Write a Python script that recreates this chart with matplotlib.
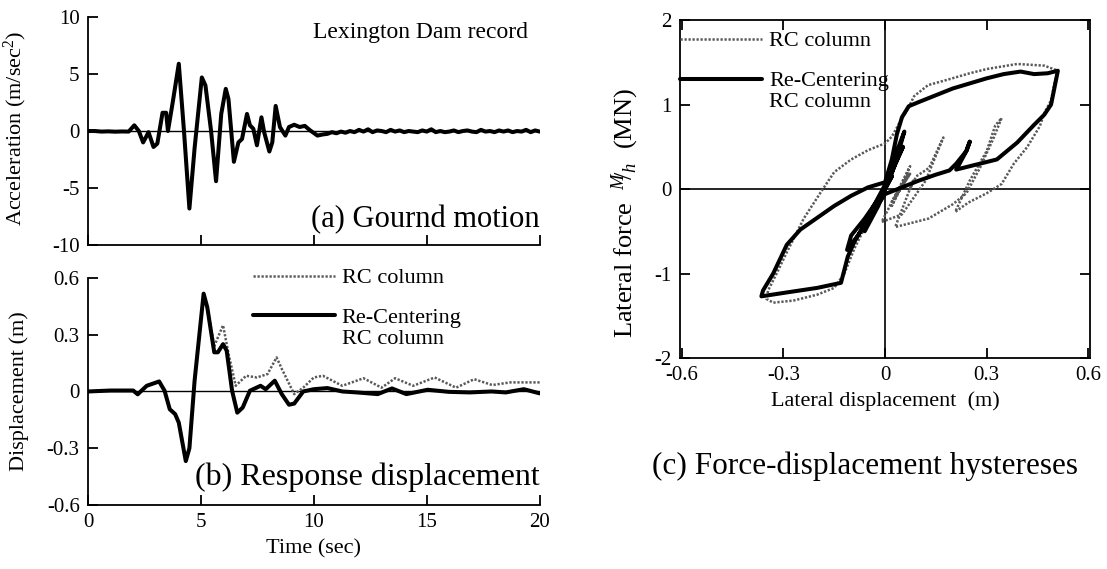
import matplotlib
matplotlib.use("Agg")
import matplotlib.pyplot as plt
from matplotlib.lines import Line2D

plt.rcParams['font.family'] = ['Liberation Serif', 'DejaVu Serif']
plt.rcParams['mathtext.fontset'] = 'custom'
plt.rcParams['mathtext.rm'] = 'Liberation Serif'
plt.rcParams['mathtext.it'] = 'Liberation Serif:italic'
plt.rcParams['axes.unicode_minus'] = False

# ground acceleration, Lexington Dam record (m/sec^2)
acc_t = [0, 0.3, 0.6, 0.9, 1.2, 1.5, 1.8, 2.05, 2.25, 2.44, 2.55, 2.68, 2.9, 3.07, 3.3, 3.46,
         3.54, 3.75, 4.02, 4.25, 4.49, 4.72, 5.04, 5.2, 5.45, 5.67, 5.9, 6.1, 6.22, 6.46,
         6.66, 6.82, 7.04, 7.17, 7.32, 7.48, 7.68, 7.8, 8.03, 8.16, 8.31, 8.5, 8.74, 8.9,
         9.13, 9.37, 9.6, 9.84, 10.16, 10.4, 10.6, 10.8, 11.0, 11.2, 11.4, 11.6, 11.8,
         12.0, 12.2, 12.4, 12.6, 12.8, 13.0, 13.2, 13.4, 13.6, 13.8, 14.0, 14.2, 14.4,
         14.6, 14.8, 15.0, 15.2, 15.4, 15.6, 15.8, 16.0, 16.2, 16.4, 16.6, 16.8, 17.0,
         17.2, 17.4, 17.6, 17.8, 18.0, 18.2, 18.4, 18.6, 18.8, 19.0, 19.2, 19.4, 19.6,
         19.8, 20.0]
acc = [0, 0, -0.05, -0.03, -0.06, -0.04, -0.05, 0.5, 0.0, -1.0, -0.6, -0.1, -1.4, -1.1, 1.6, 1.6,
       0.0, 2.5, 5.9, 0.0, -6.8, -1.5, 4.7, 4.0, 0.0, -4.4, 1.5, 3.7, 2.8, -2.7,
       -1.0, -0.7, 1.5, 0.5, 0.2, -1.25, 1.2, -0.1, -1.8, -1.0, 2.2, 0.35, -0.4, 0.35,
       0.55, 0.35, 0.45, 0.05, -0.4, -0.3, -0.25, -0.1, -0.2, -0.05, -0.15, 0.0, -0.1,
       0.1, -0.05, 0.15, -0.1, 0.05, 0.0, -0.1, 0.1, -0.05, 0.05, -0.1, 0.0, -0.05,
       -0.1, 0.05, -0.05, 0.15, -0.1, 0.0, -0.1, -0.05, 0.05, -0.1, 0.0, 0.05, -0.05,
       -0.1, 0.1, -0.05, 0.0, -0.1, 0.05, -0.05, 0.05, -0.1, 0.0, -0.05, 0.1, -0.1,
       0.05, -0.05]

# response displacement (m)
re_t = [0, 1.0, 2.0, 2.2, 2.6, 3.15, 3.39, 3.62, 3.86, 4.02, 4.33, 4.49, 4.72, 5.12, 5.28,
        5.59, 5.75, 5.98, 6.14, 6.38, 6.61, 6.85, 7.17, 7.64, 7.87, 8.27, 8.58, 8.9, 9.13,
        9.53, 10.0, 10.6, 11.26, 11.9, 12.83, 13.46, 14.1, 15.04, 15.98, 16.9, 17.87,
        18.5, 19.3, 20.0]
re_d = [0, 0.005, 0.005, -0.015, 0.03, 0.053, 0.004, -0.094, -0.12, -0.165, -0.368, -0.3, 0.057,
        0.517, 0.446, 0.207, 0.207, 0.25, 0.216, 0.004, -0.112, -0.085, 0.004, 0.03, 0.012,
        0.057, -0.014, -0.07, -0.064, 0.0, 0.012, 0.018, 0.0, -0.005, -0.014, 0.016, -0.014,
        0.009, -0.002, -0.005, 0.0, -0.005, 0.012, -0.01]
rc_t = [0, 1.0, 2.0, 2.2, 2.6, 3.15, 3.39, 3.62, 3.86, 4.02, 4.33, 4.49, 4.72, 5.12, 5.28,
        5.59, 5.98, 6.22, 6.54, 7.0, 7.48, 7.95, 8.35, 8.58, 9.13, 9.53, 10.0, 10.4, 11.26,
        12.2, 13.0, 13.6, 14.4, 15.35, 16.3, 17.1, 17.9, 18.7, 20.0]
rc_d = [0, 0.005, 0.005, -0.015, 0.03, 0.053, 0.004, -0.094, -0.12, -0.165, -0.368, -0.3, 0.057,
        0.517, 0.446, 0.24, 0.35, 0.2, 0.03, 0.083, 0.074, 0.092, 0.18, 0.12, -0.014, 0.02,
        0.074, 0.083, 0.03, 0.07, 0.02, 0.07, 0.03, 0.074, 0.02, 0.065, 0.034, 0.048, 0.048]

# lateral force M/h (MN) against lateral displacement (m)
re_x = [0, 0.02, 0.053, 0.03, 0.0, -0.05, -0.09, -0.11, -0.13, -0.2, -0.3, -0.365,
        -0.36, -0.33, -0.29, -0.25, -0.2, -0.15, -0.1, -0.05, 0.0, 0.02, 0.035, 0.05, 0.07,
        0.1, 0.15, 0.2, 0.25, 0.3, 0.35, 0.4, 0.44, 0.48, 0.51,
        0.5, 0.49, 0.47, 0.44, 0.39, 0.33, 0.29, 0.25, 0.21,
        0.22, 0.24, 0.25,
        0.24, 0.21, 0.19, 0.15, 0.1, 0.05, 0.0, -0.04, -0.08, -0.112,
        -0.1, -0.06, -0.02, 0.0, 0.03, 0.012, 0.03, 0.057, 0.04, 0.0, -0.04, -0.07, -0.06,
        -0.02, 0.0, 0.02, 0.0, -0.01]
re_y = [0, 0.2, 0.5, 0.3, 0.0, -0.35, -0.62, -0.8, -1.11, -1.17, -1.23, -1.27,
        -1.2, -1.0, -0.66, -0.48, -0.34, -0.2, -0.08, 0.02, 0.08, 0.35, 0.65, 0.85, 0.98,
        1.03, 1.11, 1.19, 1.25, 1.31, 1.36, 1.39, 1.36, 1.37, 1.4,
        1.2, 1.0, 0.88, 0.76, 0.55, 0.35, 0.31, 0.27, 0.23,
        0.3, 0.45, 0.56,
        0.45, 0.3, 0.22, 0.17, 0.1, 0.02, -0.06, -0.3, -0.55, -0.72,
        -0.55, -0.35, -0.12, 0.02, 0.4, 0.1, 0.3, 0.68, 0.5, 0.05, -0.25, -0.45, -0.5,
        -0.2, 0.0, 0.15, 0.0, -0.05]
rc_x = [0, 0.02, 0.053, 0.03, 0.0, -0.05, -0.09, -0.12, -0.15, -0.2, -0.27, -0.33, -0.35,
        -0.345, -0.32, -0.29, -0.265, -0.24, -0.19, -0.15, -0.1, -0.05, 0.0, 0.02, 0.045,
        0.066, 0.086, 0.127, 0.19, 0.25, 0.3, 0.39, 0.47, 0.51,
        0.5, 0.49, 0.47, 0.457, 0.42, 0.38, 0.344, 0.3, 0.246, 0.207,
        0.25, 0.3, 0.325, 0.344,
        0.32, 0.28, 0.24, 0.2, 0.128, 0.03,
        0.083, 0.074, 0.092, 0.13, 0.172,
        0.12, 0.05, -0.01,
        0.074, 0.02, 0.07, 0.02, 0.074, 0.03, 0.065, 0.034, 0.048]
rc_y = [0, 0.2, 0.5, 0.3, 0.0, -0.38, -0.7, -1.0, -1.17, -1.25, -1.32, -1.345, -1.3,
        -1.2, -1.0, -0.75, -0.55, -0.35, -0.04, 0.2, 0.35, 0.46, 0.54, 0.62, 0.8,
        0.94, 1.1, 1.23, 1.3, 1.37, 1.42, 1.48, 1.46, 1.4,
        1.25, 1.05, 0.9, 0.745, 0.5, 0.3, 0.06, -0.05, -0.16, -0.27,
        0.1, 0.45, 0.75, 0.84,
        0.6, 0.25, -0.05, -0.18, -0.35, -0.45,
        0.1, 0.0, 0.15, 0.25, 0.61,
        0.1, -0.3, -0.39,
        0.27, -0.2, 0.2, -0.15, 0.18, -0.1, 0.15, -0.05, 0.05]

TICK = 15
LAB = 16
thick = dict(color='black', lw=2.9, solid_joinstyle='round', solid_capstyle='round')
dotted = dict(color='0.35', lw=1.8, linestyle=(0, (0.9, 0.7)))


def style_axes(ax, box=False):
    for side in ['top', 'right']:
        ax.spines[side].set_visible(box)
    for sp in ax.spines.values():
        sp.set_linewidth(1.3)
    ax.tick_params(direction='in', length=7, width=1.3, labelsize=TICK,
                   top=box, right=box, pad=6)


fig = plt.figure(figsize=(11.07, 5.69), dpi=100)

# (a) ground motion
ax1 = fig.add_axes([0.0795, 0.5694, 0.408, 0.4007])
ax1.axhline(0, color='black', lw=1.0)
ax1.plot(acc_t, acc, **thick)
ax1.set_xlim(0, 20)
ax1.set_ylim(-10, 10)
ax1.set_xticks([0, 5, 10, 15, 20])
ax1.set_yticks([-10, -5, 0, 5, 10])
ax1.set_xticklabels([])
style_axes(ax1)
ax1.set_ylabel('Acceleration (m/sec$^2$)', fontsize=LAB)
ax1.yaxis.set_label_coords(-0.13, 0.51)
ax1.text(0.975, 0.93, 'Lexington Dam record', transform=ax1.transAxes,
         ha='right', va='center', fontsize=17)
ax1.text(1.0, 0.11, '(a) Gournd motion', transform=ax1.transAxes,
         ha='right', va='center', fontsize=22)

# (b) response displacement
ax2 = fig.add_axes([0.0795, 0.1125, 0.408, 0.399])
ax2.axhline(0, color='black', lw=1.0)
ax2.plot(rc_t, rc_d, **dotted)
ax2.plot(re_t, re_d, **thick)
ax2.set_xlim(0, 20)
ax2.set_ylim(-0.6, 0.6)
ax2.set_xticks([0, 5, 10, 15, 20])
ax2.set_yticks([-0.6, -0.3, 0, 0.3, 0.6])
ax2.set_yticklabels(['-0.6', '-0.3', '0', '0.3', '0.6'])
style_axes(ax2)
ax2.set_ylabel('Displacement (m)', fontsize=LAB)
ax2.yaxis.set_label_coords(-0.13, 0.5)
ax2.set_xlabel('Time (sec)', fontsize=LAB, labelpad=5)
ax2.text(1.0, 0.12, '(b) Response displacement', transform=ax2.transAxes,
         ha='right', va='center', fontsize=23)

h_rc = Line2D([], [], **dotted)
h_re = Line2D([], [], **thick)
h_blank = Line2D([], [], color='none')


def add_legend(ax, anchor1, anchor2):
    leg1 = ax.legend([h_rc], ['RC column'], loc='upper left', bbox_to_anchor=anchor1,
                     frameon=False, fontsize=16, handlelength=3.7, handletextpad=0.3,
                     borderaxespad=0, borderpad=0)
    ax.add_artist(leg1)
    ax.legend([h_re, h_blank], ['Re-Centering', 'RC column'], loc='upper left',
              bbox_to_anchor=anchor2, frameon=False, fontsize=16, handlelength=3.7,
              handletextpad=0.3, labelspacing=0.0, borderaxespad=0, borderpad=0)


add_legend(ax2, (0.365, 1.045), (0.365, 0.87))

# (c) force-displacement hystereses
ax3 = fig.add_axes([0.6143, 0.3708, 0.3704, 0.594])
ax3.axhline(0, color='black', lw=1.2)
ax3.axvline(0, color='black', lw=1.2)
ax3.plot(rc_x, rc_y, **dotted)
ax3.plot(re_x, re_y, **thick)
ax3.set_xlim(-0.605, 0.605)
ax3.set_ylim(-2, 2)
ax3.set_xticks([-0.6, -0.3, 0, 0.3, 0.6])
ax3.set_xticklabels(['-0.6', '-0.3', '0', '0.3', '0.6'])
ax3.set_yticks([-2, -1, 0, 1, 2])
style_axes(ax3, box=True)
ax3.set_xlabel('Lateral displacement  (m)', fontsize=LAB, labelpad=4)
ax3.set_ylabel('Lateral force  $^{M}\\!\\!/_{h}$  (MN)', fontsize=19)
ax3.yaxis.set_label_coords(-0.095, 0.43)
ax3.text(0.45, -0.32, '(c) Force-displacement hystereses', transform=ax3.transAxes,
         ha='center', va='center', fontsize=22.5)
add_legend(ax3, (0.0, 0.968), (0.0, 0.85))

fig.savefig('out.png', dpi=100)
